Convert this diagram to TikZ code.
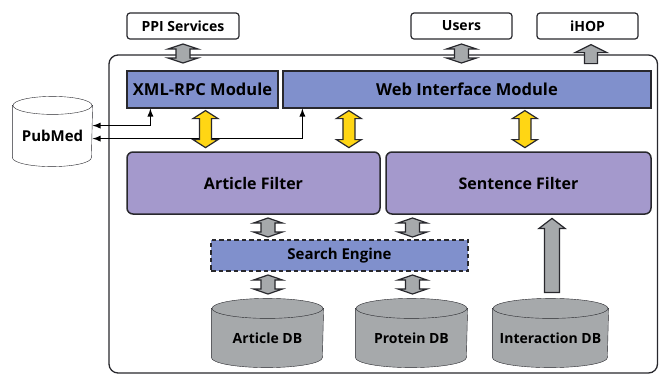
\documentclass[tikz,border=0pt]{standalone}
\usepackage{fontspec}
\setmainfont{Open Sans}
\usetikzlibrary{calc,backgrounds}
\definecolor{modblue}{RGB}{128,144,204}
\definecolor{filterpurple}{RGB}{164,153,204}
\definecolor{dbgray}{RGB}{166,169,171}
\definecolor{arrowyellow}{RGB}{255,214,20}
\definecolor{edge}{RGB}{40,40,45}

\begin{document}
\begin{tikzpicture}[x=1pt,y=-1pt,line width=1.2pt,
    topbox/.style={draw=edge, fill=white, rounded corners=3pt, minimum width=101pt, minimum height=26pt, font=\fontsize{14}{14}\selectfont\bfseries},
    module/.style={draw=edge, fill=modblue, minimum height=37pt, font=\fontsize{16.5}{16.5}\selectfont\bfseries},
    filter/.style={draw=edge, line width=1.5pt, fill=filterpurple, rounded corners=6pt, minimum height=62pt, font=\fontsize{16}{16}\selectfont\bfseries},
    dbtext/.style={minimum width=111pt, minimum height=58pt, font=\fontsize{14}{14}\selectfont\bfseries},
    grayarr/.style={draw=edge, fill=dbgray},
    yelarr/.style={draw=edge, fill=arrowyellow},
    pics/dbl/.style n args={4}{code={
      \draw[pic actions] (0,-#1) -- (#2,-#1+#4) -- (#3,-#1+#4) -- (#3,#1-#4) -- (#2,#1-#4) -- (0,#1)
        -- (-#2,#1-#4) -- (-#3,#1-#4) -- (-#3,-#1+#4) -- (-#2,-#1+#4) -- cycle;}},
    pics/up/.style n args={4}{code={
      \draw[pic actions] (0,-#1) -- (#2,-#1+#4) -- (#3,-#1+#4) -- (#3,#1) -- (-#3,#1) -- (-#3,-#1+#4) -- (-#2,-#1+#4) -- cycle;}}]
    \useasboundingbox (0,0) rectangle (659,376);
    % Frame
    \draw[edge, line width=1.3pt, rounded corners=9pt] (109,55) rectangle (657.5,373);
    % Outside
    \node[topbox, minimum width=112pt] (ppi) at (183,26) {PPI Services};
    \node[topbox] (users) at (461.5,26) {Users};
    \node[topbox] (ihop) at (587.5,26) {iHOP};
    \node[dbtext, minimum width=79pt, minimum height=60pt, font=\fontsize{15}{15}\selectfont\bfseries] (pubmed) at (52.5,136) {PubMed};
    % Modules
    \node[module, minimum width=151pt] (xml) at (202.5,89.5) {XML-RPC Module};
    \node[module, minimum width=368pt] (web) at (467,89.5) {Web Interface Module};
    % Filters
    \node[filter, minimum width=253pt] (art) at (253.5,183) {Article Filter};
    \node[filter, minimum width=265pt] (sent) at (518.5,183) {Sentence Filter};
    \node[draw=edge, dash pattern=on 4.5pt off 3pt, line width=1.3pt, fill=modblue, minimum width=257pt, minimum height=31pt,
      font=\fontsize{15}{15}\selectfont\bfseries] (search) at (339.5,255.5) {Search Engine};
    % Databases
    \node[dbtext] (artdb) at (267.5,338) {Article DB};
    \node[dbtext] (protdb) at (411.5,338) {Protein DB};
    \node[dbtext, minimum width=115pt] (intdb) at (550.5,338) {Interaction DB};
    \begin{scope}[on background layer]
      \foreach \n/\r/\h/\c in {pubmed/39.5/9/white, artdb/55.5/10/dbgray, protdb/55.5/10/dbgray, intdb/57.5/10/dbgray} {
        \filldraw[draw=edge, fill=\c] (\n.north west) -- ($(\n.south west)+(0,-\h)$)
          arc[start angle=180, end angle=0, x radius=\r, y radius=\h] -- (\n.north east) -- cycle;
        \filldraw[draw=edge, fill=\c] (\n.north) ellipse[x radius=\r, y radius=\h];
      }
    \end{scope}
    % PubMed links
    \draw[-latex, line width=1.7pt] ($(xml.south west)+(24,17)$) coordinate (x1) -- (x1 -| pubmed.east);
    \draw[-latex, line width=1.7pt] (x1) -- ($(xml.south west)+(24,0)$);
    \draw[-latex, line width=1.7pt] ($(web.south west)+(20,30)$) coordinate (w1) -- (w1 -| pubmed.east);
    \draw[-latex, line width=1.7pt] (w1) -- ($(web.south west)+(20,0)$);
    % Arrows
    \pic[grayarr] at (ppi.south |- 0,53.5) {dbl={9.5}{15}{7}{5}};
    \pic[grayarr] at (users.south |- 0,53.5) {dbl={9.5}{15}{7}{5}};
    \pic[grayarr] at ($(ihop.south)+(3.5,14.5)$) {up={9.5}{16}{6.5}{8}};
    \pic[yelarr] at ($(xml.south)+(3,20.5)$) {dbl={18.5}{12.5}{6}{8}};
    \pic[yelarr] at ($(web.south west)+(66.5,20.5)$) {dbl={18.5}{12.5}{6}{8}};
    \pic[yelarr] at ($(web.south west)+(242.5,20.5)$) {dbl={18.5}{12.5}{6}{8}};
    \foreach \x in {268,412.5} {
      \pic[grayarr] at (\x,227.5) {dbl={9.5}{14.5}{7}{5}};
      \pic[grayarr] at (\x,284.5) {dbl={9.5}{14.5}{7}{5}};
    }
    \pic[grayarr] at ($(intdb.north)+(1.5,-53)$) {up={37}{13}{7.5}{10}};
  \end{tikzpicture}
\end{document}
